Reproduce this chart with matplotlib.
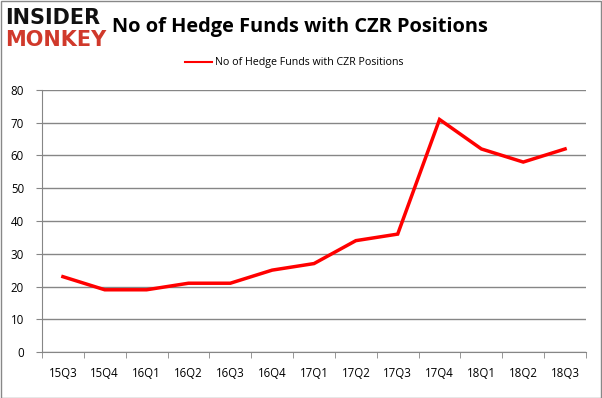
import matplotlib.pyplot as plt
from matplotlib.patches import Rectangle

quarters = ['15Q3', '15Q4', '16Q1', '16Q2', '16Q3', '16Q4', '17Q1',
            '17Q2', '17Q3', '17Q4', '18Q1', '18Q2', '18Q3']
funds = [23, 19, 19, 21, 21, 25, 27, 34, 36, 71, 62, 58, 62]
y_ticks = [0, 10, 20, 30, 40, 50, 60, 70, 80]

plt.rcParams['font.family'] = ['Open Sans', 'DejaVu Sans']

fig = plt.figure(figsize=(6.02, 3.98), dpi=100)
W, H = 602, 398
ax = fig.add_axes([42 / W, (H - 352) / H, (586 - 42) / W, (352 - 90) / H])

x = list(range(len(quarters)))
ax.plot(x, funds, color='#ff0000', linewidth=2.5, solid_joinstyle='miter')

ax.set_xlim(-0.5, len(quarters) - 0.5)
ax.set_ylim(0, 80)
ax.set_yticks(y_ticks)
ax.set_xticks(x)
ax.set_xticklabels(quarters)
ax.tick_params(axis='both', labelsize=8.3, colors='#000000', length=0)
ax.tick_params(axis='x', pad=11)
ax.tick_params(axis='y', pad=9)
ax.grid(axis='y', color='#868686', linewidth=1)
ax.set_axisbelow(True)
for s in ['top', 'right']:
    ax.spines[s].set_visible(False)
ax.spines['left'].set_color('#868686')
ax.spines['bottom'].set_color('#868686')
# minor ticks between categories, like Excel
ax.set_xticks([i - 0.5 for i in range(len(quarters) + 1)], minor=True)
ax.tick_params(axis='x', which='minor', length=4, color='#868686', direction='out')
ax.tick_params(axis='y', which='major', length=4, color='#868686', direction='out')

# legend
fig.lines.append(plt.Line2D([185 / W, 212 / W], [1 - 62 / H, 1 - 62 / H],
                            color='#ff0000', linewidth=1.5, transform=fig.transFigure))
fig.text(215 / W, 1 - 62 / H, 'No of Hedge Funds with CZR Positions',
         fontsize=7.7, va='center', ha='left')

# title
fig.text(112 / W, 1 - 27 / H, 'No of Hedge Funds with CZR Positions',
         fontsize=14.4, fontweight='bold', va='center', ha='left')

# logo
fig.text(5 / W, 1 - 18 / H, 'INSIDER', fontsize=15, fontweight='heavy',
         color='#111111', va='center', ha='left', family='DejaVu Sans')
fig.text(5 / W, 1 - 40 / H, 'MONKEY', fontsize=15, fontweight='heavy',
         color='#d0392b', va='center', ha='left', family='DejaVu Sans')

# border
fig.patches.append(Rectangle((0.5 / W, 0.5 / H), 1 - 1.5 / W, 1 - 1.5 / H,
                             transform=fig.transFigure, fill=False,
                             edgecolor='#888888', linewidth=1))

fig.savefig('out.png', dpi=100)
